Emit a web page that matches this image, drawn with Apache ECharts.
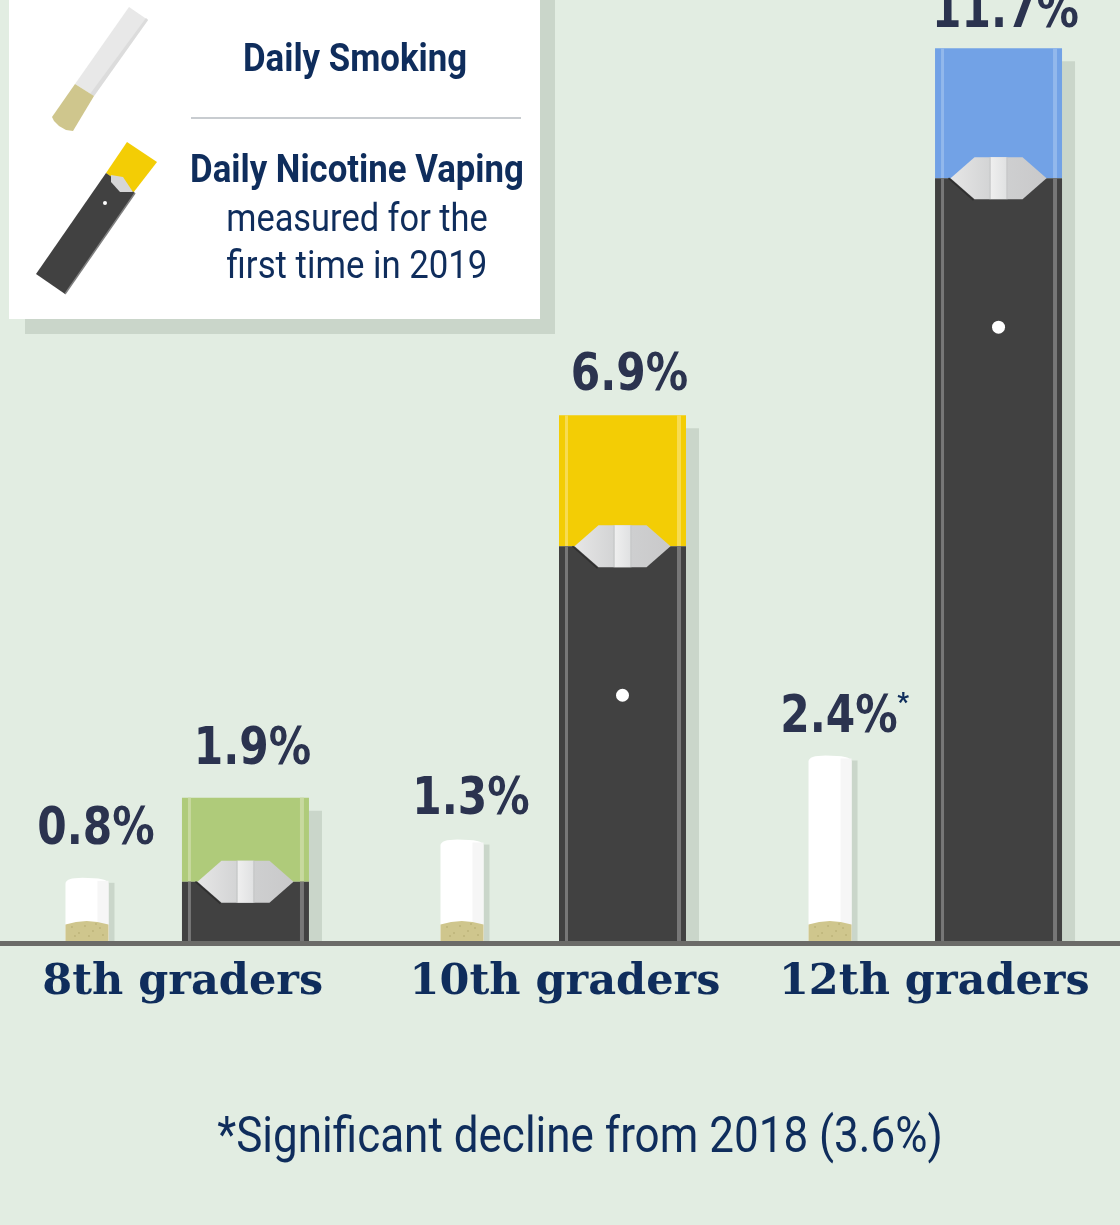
<!DOCTYPE html>
<html>
<head>
<meta charset="utf-8">
<title>Daily smoking and nicotine vaping</title>
<style>
  html,body{margin:0;padding:0;background:#e2ede2;}
  #main{width:1120px;height:1225px;}
</style>
<script src="https://cdn.jsdelivr.net/npm/echarts@6/dist/echarts.min.js"></script>
</head>
<body>
<div id="main"></div>
<script>
var grades = ['8th graders', '10th graders', '12th graders'];
var smokingValues = [0.8, 1.3, 2.4];
var vapingValues = [1.9, 6.9, 11.7];
var smokingNotes = ['', '', '*'];
var podColors = ['#afcb7a', '#f3cd05', '#72a2e6'];
var podEdgeColors = ['#c8d99f', '#f7dc52', '#92b8ec'];

// pixel nudges per group, the original groups are not evenly spaced
var smokingShift = [-99.7, -98, -103.3];
var vapingShift = [58.8, 62.5, 65.2];
var smokingLabelLift = [51, 43, 41];
var vapingLabelLift = [47, 39, 34];
var tipHeights = [84, 131, 130];

var navy = '#0f2d5c';
var ink = '#2b334f';
var shadow = '#cad6ca';
var condensed = 'Roboto, sans-serif';
var valueFont = 'bold 51px "DejaVu Sans", sans-serif';
var valueSqueeze = 0.83;

var speckles = [[-15, 6], [-8, 12], [-2, 5], [6, 10], [13, 7], [-12, 15], [2, 15], [16, 14], [9, 3]];

function valueText(text, x, y) {
  return {type: 'text', x: x, y: y, scaleX: valueSqueeze,
    style: {text: text, x: 0, y: 0, align: 'center', verticalAlign: 'middle', font: valueFont, fill: ink}};
}

function renderSmoking(params, api) {
  var i = api.value(0);
  var top = api.coord([i, api.value(1)]);
  var base = api.coord([i, 0]);
  var x = top[0] + smokingShift[i];
  var y = top[1] - 4;
  var b = base[1];
  var w = 43;
  var left = x - w / 2;
  var kids = [
    {type: 'rect', shape: {x: left + w - 1, y: y + 5, width: 7, height: b - y - 5}, style: {fill: shadow}},
    {type: 'path', shape: {pathData: 'M' + left + ' ' + b + 'L' + left + ' ' + (y + 6) + 'Q' + left + ' ' + y + ' ' + (left + 17) + ' ' + y + 'Q' + (left + w) + ' ' + y + ' ' + (left + w) + ' ' + (y + 6) + 'L' + (left + w) + ' ' + b + 'Z', layout: 'cover', x: left, y: y, width: w, height: b - y}, style: {fill: '#ffffff'}},
    {type: 'rect', shape: {x: left + 32, y: y + 3, width: 11, height: b - y - 3}, style: {fill: '#f6f6f6'}},
    {type: 'path', shape: {pathData: 'M0 22L0 4Q21 -3 43 4L43 22Z', layout: 'cover', x: left, y: b - 22, width: w, height: 22}, style: {fill: '#cfc68d'}}
  ];
  speckles.forEach(function (s) {
    kids.push({type: 'circle', shape: {cx: x + s[0], cy: b - 22 + s[1], r: 0.8}, style: {fill: '#b0a76c'}});
  });
  kids.push(valueText(api.value(1).toFixed(1) + '%', x + 9, top[1] - smokingLabelLift[i]));
  if (smokingNotes[i]) {
    kids.push({type: 'text', style: {text: smokingNotes[i], x: x + 73, y: top[1] - 55, align: 'center', verticalAlign: 'middle', font: 'bold 26px Roboto, sans-serif', fill: navy}});
  }
  return {type: 'group', children: kids};
}

function renderVaping(params, api) {
  var i = api.value(0);
  var top = api.coord([i, api.value(1)]);
  var base = api.coord([i, 0]);
  var x = top[0] + vapingShift[i];
  var y = top[1];
  var b = base[1];
  var w = 127;
  var left = x - w / 2;
  var joint = y + tipHeights[i];
  var kids = [
    {type: 'rect', shape: {x: left + w, y: y + 13, width: 13, height: b - y - 13}, style: {fill: shadow}},
    {type: 'rect', shape: {x: left, y: y, width: w, height: joint - y}, style: {fill: podColors[i]}},
    {type: 'rect', shape: {x: left + 6, y: y, width: 3, height: joint - y}, style: {fill: podEdgeColors[i]}},
    {type: 'rect', shape: {x: left + w - 9, y: y, width: 4, height: joint - y}, style: {fill: podEdgeColors[i]}},
    {type: 'rect', shape: {x: left, y: joint, width: w, height: b - joint}, style: {fill: '#414141'}},
    {type: 'rect', shape: {x: left + 6, y: joint, width: 3, height: b - joint}, style: {fill: '#777777'}},
    {type: 'rect', shape: {x: left + w - 9, y: joint, width: 4, height: b - joint}, style: {fill: '#777777'}},
    {type: 'polyline', shape: {points: [[x - 50, joint], [x - 25, joint + 22]]}, style: {stroke: '#2f2f2f', lineWidth: 1.5, fill: null}},
    {type: 'polygon', shape: {points: [[x - 48, joint], [x - 24, joint - 21], [x + 24, joint - 21], [x + 48, joint], [x + 24, joint + 21], [x - 24, joint + 21]]},
      style: {fill: new echarts.graphic.LinearGradient(0, 0, 1, 0, [{offset: 0, color: '#e6e6e6'}, {offset: 0.5, color: '#cfd0d1'}, {offset: 1, color: '#c9c9ca'}])}},
    {type: 'rect', shape: {x: x - 8, y: joint - 21, width: 16, height: 42},
      style: {fill: new echarts.graphic.LinearGradient(0, 0, 1, 0, [{offset: 0, color: '#efefef'}, {offset: 1, color: '#e0e1e2'}])}},
    {type: 'rect', shape: {x: x - 9, y: joint - 21, width: 1, height: 42}, style: {fill: '#c4c5c6'}},
    {type: 'rect', shape: {x: x + 8, y: joint - 21, width: 1, height: 42}, style: {fill: '#c4c5c6'}}
  ];
  if (tipHeights[i] > 100) {
    kids.push({type: 'circle', shape: {cx: x, cy: joint + 149, r: 6.5}, style: {fill: '#ffffff'}});
  }
  kids.push(valueText(api.value(1).toFixed(1) + '%', x + 7, y - vapingLabelLift[i]));
  return {type: 'group', children: kids};
}

// legend box and footnote are plain graphics, condensed type is faked with scaleX
function squeezed(text, cx, cy, size, weight, sx) {
  return {type: 'text', x: cx, y: cy, scaleX: sx, scaleY: 1,
    style: {text: text, x: 0, y: 0, align: 'center', verticalAlign: 'middle', font: weight + ' ' + size + 'px ' + condensed, fill: navy}};
}

var legendParts = [
  {type: 'rect', shape: {x: 25, y: 0, width: 530, height: 334}, style: {fill: shadow}},
  {type: 'rect', shape: {x: 9, y: 0, width: 531, height: 319}, style: {fill: '#ffffff'}},
  {type: 'polygon', shape: {points: [[129, 7], [148, 20], [94, 96], [75, 84]]}, style: {fill: '#e8e8e8'}},
  {type: 'polygon', shape: {points: [[146, 18], [148, 20], [94, 96], [90, 94]]}, style: {fill: '#dcdcdc'}},
  {type: 'polygon', shape: {points: [[75, 84], [94, 96], [73, 131], [66, 130], [59, 126], [54, 121], [52, 117]]}, style: {fill: '#cfc68d'}},
  {type: 'polygon', shape: {points: [[127, 142], [157, 162], [133, 193], [106, 173]]}, style: {fill: '#f3cd05'}},
  {type: 'polygon', shape: {points: [[106, 173], [135, 193], [65, 294], [36, 274]]}, style: {fill: '#414141'}},
  {type: 'polyline', shape: {points: [[135, 193], [65, 294]]}, style: {stroke: '#808080', lineWidth: 1.5, fill: null}},
  {type: 'polygon', shape: {points: [[111, 175], [123, 177], [133, 192], [120, 192], [111, 182]]}, style: {fill: '#d6d6d7'}},
  {type: 'circle', shape: {cx: 105, cy: 203, r: 2}, style: {fill: '#ffffff'}},
  {type: 'rect', shape: {x: 191, y: 117, width: 330, height: 2}, style: {fill: '#c8ccd0'}},
  squeezed('Daily Smoking', 355, 61, 38, 'bold', 0.915),
  squeezed('Daily Nicotine Vaping', 357, 172, 38, 'bold', 0.915),
  squeezed('measured for the', 357, 221, 38, 'normal', 0.905),
  squeezed('first time in 2019', 357, 268, 38, 'normal', 0.915),
  squeezed('*Significant decline from 2018 (3.6%)', 580, 1139, 50, 'normal', 0.88)
];

var chart = echarts.init(document.getElementById('main'), null, {renderer: 'canvas'});

var labelStyle = {fontFamily: '"DejaVu Serif", serif', fontWeight: 'bold', fontSize: 43, color: navy};

var option = {
  animation: false,
  backgroundColor: '#e2ede2',
  grid: {left: 0, right: 0, top: 25.2, height: 917.8},
  graphic: {elements: legendParts},
  xAxis: {
    type: 'category',
    data: grades,
    z: 5,
    axisTick: {show: false},
    axisLine: {lineStyle: {color: '#6b6b68', width: 5}},
    axisLabel: {
      margin: 18,
      interval: 0,
      formatter: function (v, idx) { return '{g' + idx + '|' + v + '}'; },
      rich: {
        g0: Object.assign({padding: [0, 8, 0, 0]}, labelStyle),
        g1: Object.assign({padding: [0, 0, 0, 10]}, labelStyle),
        g2: Object.assign({padding: [0, 0, 0, 2]}, labelStyle)
      }
    }
  },
  yAxis: {type: 'value', min: 0, max: 12, show: false},
  series: [
    {name: 'Daily Smoking', type: 'custom', renderItem: renderSmoking, encode: {x: 0, y: 1}, clip: false, z: 2,
      data: smokingValues.map(function (v, i) { return [i, v]; })},
    {name: 'Daily Nicotine Vaping', type: 'custom', renderItem: renderVaping, encode: {x: 0, y: 1}, clip: false, z: 2,
      data: vapingValues.map(function (v, i) { return [i, v]; })}
  ]
};

chart.setOption(option);
</script>
</body>
</html>
